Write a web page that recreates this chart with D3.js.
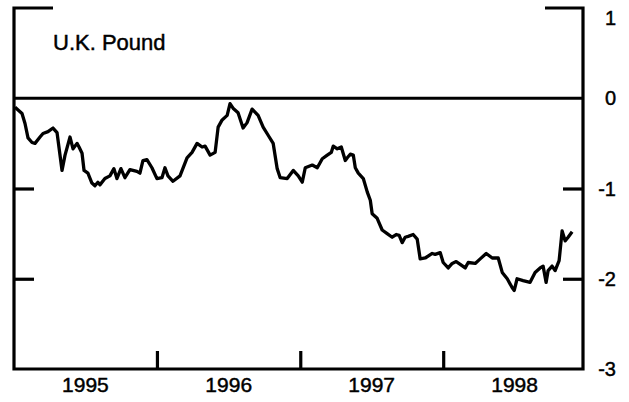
<!DOCTYPE html>
<html>
<head>
<meta charset="utf-8">
<script src="https://cdn.jsdelivr.net/npm/d3@7"></script>
<style>
  body { margin: 0; background: #fff; }
  text { font-family: "Liberation Sans", Arial, sans-serif; fill: #000; stroke: #000; stroke-width: 0.45px; }
</style>
</head>
<body>
<div id="chart"></div>
<script>
var w = 629;
var h = 402;

// tick positions / labels
var yearTicks = [1996, 1997, 1998];
var yearLabels = [1995, 1996, 1997, 1998];
var valueTicks = [1, 0, -1, -2, -3];
var innerTicks = [-1, -2];
var title = "U.K. Pound";

// series, time as decimal year
var times = [
  1995.007, 1995.056, 1995.077, 1995.098, 1995.126, 1995.147, 1995.182, 1995.203, 1995.238, 1995.273,
  1995.301, 1995.336, 1995.357, 1995.392, 1995.413, 1995.441, 1995.455, 1995.476, 1995.490, 1995.517,
  1995.545, 1995.566, 1995.587, 1995.601, 1995.636, 1995.671, 1995.699, 1995.720, 1995.748, 1995.776,
  1995.811, 1995.860, 1995.881, 1995.902, 1995.930, 1995.965, 1996.000, 1996.035, 1996.056, 1996.077,
  1996.112, 1996.161, 1996.210, 1996.245, 1996.280, 1996.315, 1996.336, 1996.371, 1996.406, 1996.427,
  1996.455, 1996.490, 1996.510, 1996.531, 1996.566, 1996.601, 1996.629, 1996.664, 1996.706, 1996.741,
  1996.776, 1996.811, 1996.839, 1996.860, 1996.909, 1996.951, 1996.986, 1997.014, 1997.035, 1997.084,
  1997.119, 1997.154, 1997.189, 1997.217, 1997.231, 1997.259, 1997.287, 1997.315, 1997.329, 1997.350,
  1997.371, 1997.385, 1997.406, 1997.441, 1997.469, 1997.490, 1997.503, 1997.538, 1997.573, 1997.608,
  1997.643, 1997.671, 1997.692, 1997.713, 1997.734, 1997.755, 1997.790, 1997.818, 1997.839, 1997.874,
  1997.923, 1997.944, 1997.979, 1998.000, 1998.035, 1998.063, 1998.091, 1998.119, 1998.154, 1998.175,
  1998.224, 1998.259, 1998.301, 1998.343, 1998.385, 1998.413, 1998.448, 1998.483, 1998.497, 1998.517,
  1998.559, 1998.608, 1998.643, 1998.678, 1998.699, 1998.720, 1998.734, 1998.762, 1998.783, 1998.811,
  1998.832, 1998.853, 1998.874, 1998.902
];
var values = [
  -0.10, -0.17, -0.28, -0.44, -0.49, -0.50, -0.43, -0.39, -0.37, -0.33,
  -0.38, -0.80, -0.63, -0.43, -0.56, -0.50, -0.54, -0.61, -0.80, -0.83,
  -0.94, -0.97, -0.93, -0.96, -0.89, -0.86, -0.78, -0.89, -0.78, -0.88,
  -0.79, -0.81, -0.83, -0.69, -0.68, -0.77, -0.89, -0.88, -0.77, -0.86,
  -0.92, -0.86, -0.66, -0.60, -0.50, -0.54, -0.53, -0.63, -0.60, -0.32,
  -0.24, -0.19, -0.06, -0.11, -0.16, -0.33, -0.27, -0.12, -0.19, -0.32,
  -0.41, -0.50, -0.78, -0.88, -0.89, -0.80, -0.86, -0.93, -0.77, -0.74,
  -0.77, -0.67, -0.63, -0.60, -0.53, -0.56, -0.54, -0.69, -0.66, -0.62,
  -0.63, -0.77, -0.83, -0.89, -1.04, -1.13, -1.28, -1.33, -1.46, -1.50,
  -1.54, -1.51, -1.52, -1.60, -1.54, -1.53, -1.51, -1.56, -1.78, -1.77,
  -1.72, -1.73, -1.71, -1.82, -1.88, -1.83, -1.81, -1.84, -1.88, -1.82,
  -1.83, -1.78, -1.72, -1.77, -1.77, -1.93, -2.00, -2.10, -2.13, -2.00,
  -2.02, -2.04, -1.93, -1.88, -1.86, -2.04, -1.91, -1.86, -1.91, -1.80,
  -1.47, -1.58, -1.54, -1.48
];

function toDate(t) {
  var y = Math.floor(t);
  var a = new Date(y, 0, 1), b = new Date(y + 1, 0, 1);
  return new Date(+a + (t - y) * (b - a));
}

var dataset = times.map(function (t, i) { return { date: toDate(t), value: values[i] }; });

var padLeft = 14, padRight = 583, padTop = 8, padBottom = 369;

var xScale = d3.scaleTime()
  .domain([new Date(1995, 0, 1), new Date(1998, 11, 24)])
  .range([padLeft, padRight]);

var yScale = d3.scaleLinear()
  .domain([-3, 1])
  .range([padBottom, padTop]);

var svg = d3.select("#chart")
  .append("svg")
  .attr("width", w)
  .attr("height", h);

// frame: left, bottom, right + short stubs at the top
svg.append("path")
  .attr("d", "M" + (padLeft + 39) + "," + padTop + "H" + padLeft + "V" + padBottom +
             "H" + padRight + "V" + padTop + "H" + (padRight - 38))
  .attr("fill", "none")
  .attr("stroke", "#000")
  .attr("stroke-width", 3.2);

// zero line
svg.append("line")
  .attr("x1", padLeft).attr("x2", padRight)
  .attr("y1", yScale(0)).attr("y2", yScale(0))
  .attr("stroke", "#000").attr("stroke-width", 2.8);

// x ticks at year boundaries (pointing inward)
var xTickAxis = d3.axisBottom(xScale)
  .tickValues(yearTicks.map(function (y) { return new Date(y, 0, 1); }))
  .tickSize(-18)
  .tickFormat("");
var gx = svg.append("g").attr("transform", "translate(0," + padBottom + ")").call(xTickAxis);
gx.select(".domain").remove();
gx.selectAll(".tick line").attr("stroke", "#000").attr("stroke-width", 3.2);

// year labels centred inside each year
var xLabelAxis = d3.axisBottom(xScale)
  .tickValues(yearLabels.map(function (y) { return new Date(y, 6, 1); }))
  .tickSize(0)
  .tickPadding(8)
  .tickFormat(d3.timeFormat("%Y"));
var gxl = svg.append("g").attr("transform", "translate(0," + padBottom + ")").call(xLabelAxis);
gxl.select(".domain").remove();
gxl.selectAll("text")
  .attr("font-size", 21)
  .attr("font-family", "Liberation Sans, Arial, sans-serif")
  .attr("fill", "#000");

// y inner ticks on both sides
var yLeft = d3.axisLeft(yScale).tickValues(innerTicks).tickSize(-20).tickFormat("");
var gyl = svg.append("g").attr("transform", "translate(" + padLeft + ",0)").call(yLeft);
gyl.select(".domain").remove();
gyl.selectAll(".tick line").attr("stroke", "#000").attr("stroke-width", 3.2);

var yRight = d3.axisRight(yScale).tickValues(innerTicks).tickSize(-20).tickFormat("");
var gyr = svg.append("g").attr("transform", "translate(" + padRight + ",0)").call(yRight);
gyr.select(".domain").remove();
gyr.selectAll(".tick line").attr("stroke", "#000").attr("stroke-width", 3.2);

// y labels on the right
svg.append("g").selectAll("text")
  .data(valueTicks)
  .enter().append("text")
  .attr("x", 616)
  .attr("y", function (d) { return d === 1 ? yScale(d) + 10 : yScale(d); })
  .attr("dy", "0.36em")
  .attr("text-anchor", "end")
  .attr("font-size", 20)
  .text(function (d) { return d < 0 ? "-" + Math.abs(d) : d; });

// title
svg.append("text")
  .attr("x", 53)
  .attr("y", 50)
  .attr("font-size", 22)
  .text(title);

// series line
var line = d3.line()
  .x(function (d) { return xScale(d.date); })
  .y(function (d) { return yScale(d.value); });

svg.append("path")
  .datum(dataset)
  .attr("fill", "none")
  .attr("stroke", "#000")
  .attr("stroke-width", 3.3)
  .attr("stroke-linejoin", "round")
  .attr("d", line);
</script>
</body>
</html>
